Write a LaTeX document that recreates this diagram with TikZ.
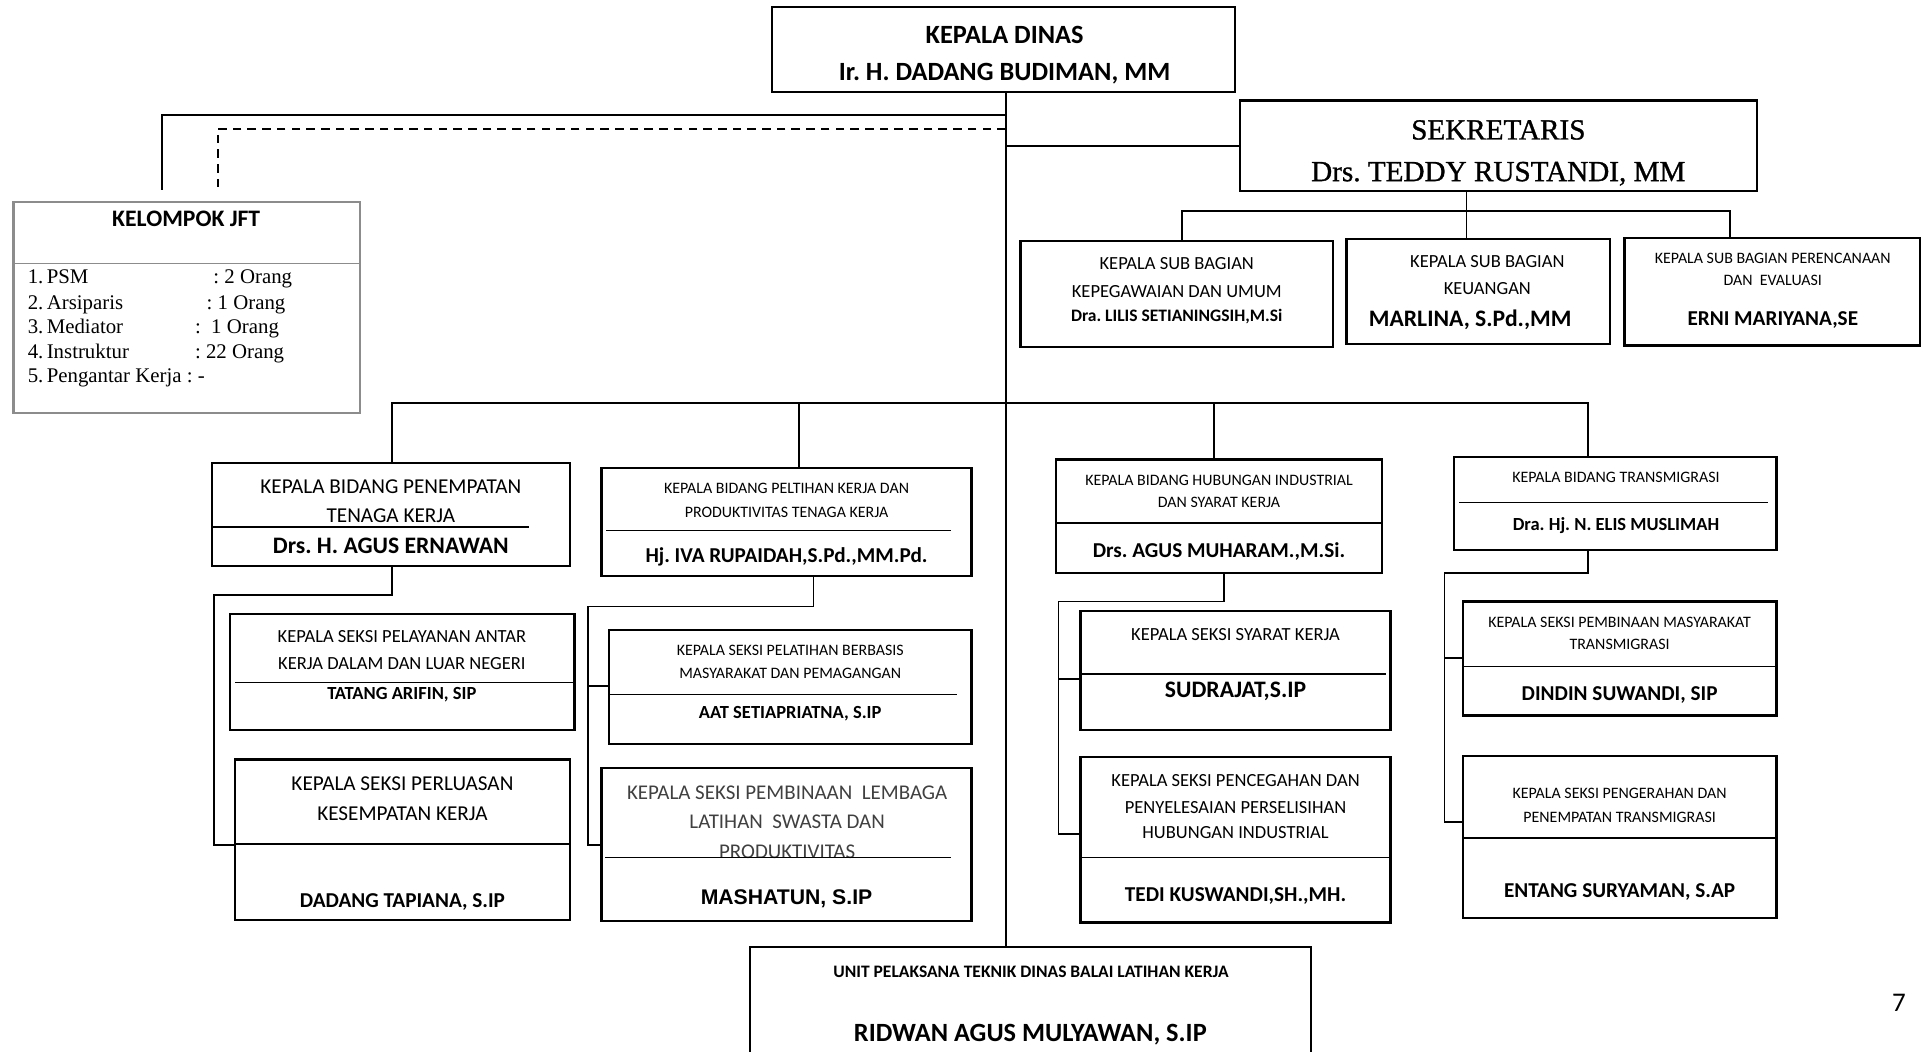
\documentclass[tikz,border=0pt]{standalone}
\usepackage{fontspec}
\setmainfont{Carlito}
\newfontfamily\jftserif{Liberation Serif}
\newfontfamily\sekserif[FakeBold=1]{Liberation Serif}
\newfontfamily\arialfont{Liberation Sans}
\usepackage{tikz}
\usetikzlibrary{positioning}
\tikzstyle{unit} = [rectangle, draw = black, line width = 1.8pt, inner sep = 0]
\tikzstyle{jftbox} = [rectangle, draw = black!45, line width = 1.8pt, inner sep = 0]
\tikzstyle{link} = [line width = 1.5pt]
\tikzstyle{rule} = [line width = 1.3pt]
\tikzstyle{txt} = [inner sep = 0, text depth = 0pt]
\tikzstyle{lbl-xs} = [txt, text height = 8.2pt, font = {\fontsize{13}{15}\selectfont}]
\tikzstyle{lbl-s} = [txt, text height = 9.5pt, font = {\fontsize{15.1}{18}\selectfont}]
\tikzstyle{lbl-m} = [txt, text height = 10.9pt, font = {\fontsize{17.3}{20}\selectfont}]
\tikzstyle{lbl-light} = [txt, text height = 10.8pt, text = black!75,
  font = {\fontsize{17.1}{20}\selectfont}]
\tikzstyle{nm-xs} = [txt, text height = 9pt, font = {\fontsize{14.3}{17}\selectfont\bfseries}]
\tikzstyle{nm-s} = [txt, text height = 9.5pt, font = {\fontsize{15.1}{18}\selectfont\bfseries}]
\tikzstyle{nm-m} = [txt, text height = 10.9pt, font = {\fontsize{17.3}{20}\selectfont\bfseries}]
\tikzstyle{nm-l} = [txt, text height = 12.2pt, font = {\fontsize{19.3}{22}\selectfont\bfseries}]
\tikzstyle{nm-xl} = [txt, text height = 13.5pt, font = {\fontsize{21.5}{25}\selectfont\bfseries}]
\tikzstyle{nm-arial} = [txt, text height = 12.4pt,
  font = {\arialfont\fontsize{17.3}{20}\selectfont\bfseries}]
\tikzstyle{sek-txt} = [txt, text height = 15.7pt,
  font = {\sekserif\fontsize{23.8}{28}\selectfont}]
\tikzstyle{jft-item} = [txt, text height = 11.2pt, anchor = west,
  font = {\jftserif\fontsize{17}{20}\selectfont}]

\begin{document}
\frenchspacing
\begin{tikzpicture}[x = 1pt, y = -1pt]
  \useasboundingbox (0, 0) rectangle (1568, 858);
  \coordinate (spine) at (821, 0);

  % kepala dinas
  \node [unit, minimum width = 378, minimum height = 69] (kadis) at (819, 40.5) {};
  \node [nm-xl] (kadis-title) at (820, 29) {KEPALA DINAS};
  \node [nm-xl] (kadis-name) at (820, 59) {Ir. H. DADANG BUDIMAN, MM};

  % sekretaris
  \node [unit, minimum width = 422, minimum height = 74] (sekretaris) at (1223, 119) {};
  \node [sek-txt] (sek-title) at (1223, 106) {SEKRETARIS};
  \node [sek-txt] (sek-name) at (1223, 140) {Drs. TEDDY RUSTANDI, MM};

  % sub bagian
  \node [unit, minimum width = 255, minimum height = 86] (lilis) at (960.5, 240) {};
  \node [lbl-s] (lilis-a) at (960.5, 215) {KEPALA SUB BAGIAN};
  \node [lbl-s] (lilis-b) at (960.5, 238) {KEPEGAWAIAN DAN UMUM};
  \node [nm-xs] (lilis-name) at (960.5, 258) {Dra. LILIS SETIANINGSIH,M.Si};

  \node [unit, minimum width = 215, minimum height = 86] (marlina) at (1206.5, 238) {};
  \node [lbl-s] (marlina-a) at (1214, 214) {KEPALA SUB BAGIAN};
  \node [lbl-s] (marlina-b) at (1214, 236) {KEUANGAN};
  \node [nm-l] (marlina-name) at (1200, 260) {MARLINA, S.Pd.,MM};

  \node [unit, minimum width = 241, minimum height = 88] (erni) at (1446.5, 238) {};
  \node [lbl-xs] (erni-a) at (1447, 211) {KEPALA SUB BAGIAN PERENCANAAN};
  \node [lbl-xs] (erni-b) at (1447, 229) {DAN\ \ EVALUASI};
  \node [nm-m] (erni-name) at (1447, 260) {ERNI MARIYANA,SE};

  % kelompok jft
  \node [jftbox, minimum width = 283, minimum height = 172] (jft) at (152.5, 251) {};
  \node [nm-l] (jft-title) at (152, 179) {KELOMPOK JFT};
  \draw [rule, draw = black!45] (11, 215) -- (294, 215);
  \foreach \ypos/\nr/\role/\colx/\cnt in {226/1/PSM/174/{: 2 Orang},
      247/2/Arsiparis/168.5/{: 1 Orang}, 267/3/Mediator/159/{:\ \ 1 Orang},
      287/4/Instruktur/159/{: 22 Orang}} {
    \node [jft-item] (jft-nr-\nr) at (22.5, \ypos) {\nr.};
    \node [jft-item] (jft-role-\nr) at (38, \ypos) {\role};
    \node [jft-item] (jft-cnt-\nr) at (\colx, \ypos) {\cnt};
  }
  \node [jft-item] (jft-nr-5) at (22.5, 307) {5.};
  \node [jft-item] (jft-role-5) at (38, 307) {Pengantar Kerja : -};

  % bidang 1
  \node [unit, minimum width = 292, minimum height = 84] (bid-1) at (319, 420) {};
  \node [lbl-m] (bid-1-a) at (319, 397) {KEPALA BIDANG PENEMPATAN};
  \node [lbl-m] (bid-1-b) at (319, 421) {TENAGA KERJA};
  \draw [rule] (173, 430) -- (432, 430);
  \node [nm-l] (bid-1-name) at (319, 446) {Drs. H. AGUS ERNAWAN};
  % bidang 2
  \node [unit, minimum width = 302, minimum height = 88] (bid-2) at (642, 426) {};
  \node [lbl-xs] (bid-2-a) at (642, 399) {KEPALA BIDANG PELTIHAN KERJA DAN};
  \node [lbl-xs] (bid-2-b) at (642, 418) {PRODUKTIVITAS TENAGA KERJA};
  \draw [rule] (495, 433) -- (776, 433);
  \node [nm-m] (bid-2-name) at (642, 454) {Hj. IVA RUPAIDAH,S.Pd.,MM.Pd.};
  % bidang 3
  \node [unit, minimum width = 266, minimum height = 93] (bid-3) at (995, 421.5) {};
  \node [lbl-xs] (bid-3-a) at (995, 392) {KEPALA BIDANG HUBUNGAN INDUSTRIAL};
  \node [lbl-xs] (bid-3-b) at (995, 410) {DAN SYARAT KERJA};
  \draw [rule] (862, 427) -- (1128, 427);
  \node [nm-m] (bid-3-name) at (995, 450) {Drs. AGUS MUHARAM.,M.Si.};
  % bidang 4
  \node [unit, minimum width = 263, minimum height = 76] (bid-4) at (1318.5, 411) {};
  \node [lbl-xs] (bid-4-a) at (1319, 390) {KEPALA BIDANG TRANSMIGRASI};
  \draw [rule] (1191, 410) -- (1443, 410);
  \node [nm-s] (bid-4-name) at (1319, 428) {Dra. Hj. N. ELIS MUSLIMAH};

  % seksi 1
  \node [unit, minimum width = 281, minimum height = 95] (sie-1-a) at (328.5, 548.5) {};
  \node [lbl-s] (sie-1-a-1) at (328, 520) {KEPALA SEKSI PELAYANAN ANTAR};
  \node [lbl-s] (sie-1-a-2) at (328, 542) {KERJA DALAM DAN LUAR NEGERI};
  \draw [rule] (192, 557) -- (469, 557);
  \node [nm-s] (sie-1-a-name) at (328, 566) {TATANG ARIFIN, SIP};
  \node [unit, minimum width = 273, minimum height = 131] (sie-1-b) at (328.5, 685.5) {};
  \node [lbl-m] (sie-1-b-1) at (328.5, 640) {KEPALA SEKSI PERLUASAN};
  \node [lbl-m] (sie-1-b-2) at (328.5, 664) {KESEMPATAN KERJA};
  \draw [rule] (192, 689) -- (465, 689);
  \node [nm-m] (sie-1-b-name) at (328.5, 735) {DADANG TAPIANA, S.IP};
  % seksi 2
  \node [unit, minimum width = 296, minimum height = 93] (sie-2-a) at (645, 560.5) {};
  \node [lbl-xs] (sie-2-a-1) at (645, 531) {KEPALA SEKSI PELATIHAN BERBASIS};
  \node [lbl-xs] (sie-2-a-2) at (645, 550) {MASYARAKAT DAN PEMAGANGAN};
  \draw [rule] (497, 567) -- (781, 567);
  \node [nm-s] (sie-2-a-name) at (645, 582) {AAT SETIAPRIATNA, S.IP};
  \node [unit, minimum width = 302, minimum height = 125] (sie-2-b) at (642, 689.5) {};
  \node [lbl-light] (sie-2-b-1) at (642.5, 647) {KEPALA SEKSI PEMBINAAN\ \ LEMBAGA};
  \node [lbl-light] (sie-2-b-2) at (642.5, 671) {LATIHAN\ \ SWASTA DAN};
  \node [lbl-light] (sie-2-b-3) at (642.5, 695) {PRODUKTIVITAS};
  \draw [rule] (494, 700) -- (776, 700);
  \node [nm-arial] (sie-2-b-name) at (642, 732) {MASHATUN, S.IP};
  % seksi 3
  \node [unit, minimum width = 253, minimum height = 97] (sie-3-a) at (1008.5, 547.5) {};
  \node [lbl-s] (sie-3-a-1) at (1008.5, 518) {KEPALA SEKSI SYARAT KERJA};
  \draw [rule] (882, 550) -- (1131, 550);
  \node [nm-l] (sie-3-a-name) at (1008.5, 563) {SUDRAJAT,S.IP};
  \node [unit, minimum width = 253, minimum height = 135] (sie-3-b) at (1008.5, 685.5) {};
  \node [lbl-s] (sie-3-b-1) at (1008.5, 637) {KEPALA SEKSI PENCEGAHAN DAN};
  \node [lbl-s] (sie-3-b-2) at (1008.5, 659) {PENYELESAIAN PERSELISIHAN};
  \node [lbl-s] (sie-3-b-3) at (1008.5, 680) {HUBUNGAN INDUSTRIAL};
  \draw [rule] (882, 700) -- (1135, 700);
  \node [nm-m] (sie-3-b-name) at (1008.5, 730) {TEDI KUSWANDI,SH.,MH.};
  % seksi 4
  \node [unit, minimum width = 256, minimum height = 93] (sie-4-a) at (1322, 537.5) {};
  \node [lbl-xs] (sie-4-a-1) at (1322, 508) {KEPALA SEKSI PEMBINAAN MASYARAKAT};
  \node [lbl-xs] (sie-4-a-2) at (1322, 526) {TRANSMIGRASI};
  \draw [rule] (1194, 544) -- (1450, 544);
  \node [nm-m] (sie-4-a-name) at (1322, 566) {DINDIN SUWANDI, SIP};
  \node [unit, minimum width = 256, minimum height = 132] (sie-4-b) at (1322, 683) {};
  \node [lbl-xs] (sie-4-b-1) at (1322, 648) {KEPALA SEKSI PENGERAHAN DAN};
  \node [lbl-xs] (sie-4-b-2) at (1322, 667) {PENEMPATAN TRANSMIGRASI};
  \draw [rule] (1194, 684) -- (1450, 684);
  \node [nm-m] (sie-4-b-name) at (1322, 727) {ENTANG SURYAMAN, S.AP};

  % upt
  \node [unit, minimum width = 458, minimum height = 107] (upt) at (841, 826.5) {};
  \node [nm-xs] (upt-title) at (841.5, 793) {UNIT PELAKSANA TEKNIK DINAS BALAI LATIHAN KERJA};
  \node [nm-xl] (upt-name) at (841, 843) {RIDWAN AGUS MULYAWAN, S.IP};

  % page number
  \node [txt, text height = 13.9pt, font = {\fontsize{22}{26}\selectfont}] (page-nr)
    at (1550, 819) {7};

  % links from the top
  \coordinate (jft-a) at (132, 94);
  \coordinate (jft-b) at (178, 105);
  \draw [link] (kadis.south -| spine) -- (upt.north -| spine);
  \draw [link, shorten >= 9pt] (jft-a -| spine) -- (jft-a) -- (jft-a |- jft.north);
  \draw [link, dash pattern = on 7pt off 5pt, shorten >= 9pt] (jft-b -| spine) --
    (jft-b) -- (jft-b |- jft.north);
  \draw [link] (spine |- sekretaris.west) -- (sekretaris.west);

  % sub bagian links
  \coordinate (sub-bar) at (1197, 172);
  \coordinate (sub-a) at (965, 172);
  \coordinate (sub-c) at (1412, 172);
  \draw [link] (sekretaris.south -| sub-bar) -- (marlina.north -| sub-bar);
  \draw [link] (sub-a |- lilis.north) -- (sub-a) -- (sub-c) -- (sub-c |- erni.north);

  % bidang links
  \coordinate (bar-a) at (320, 329);
  \coordinate (bar-b) at (652, 329);
  \coordinate (bar-c) at (991, 329);
  \coordinate (bar-d) at (1296, 329);
  \draw [link] (bar-a |- bid-1.north) -- (bar-a) -- (bar-d) -- (bar-d |- bid-4.north);
  \draw [link] (bar-b) -- (bar-b |- bid-2.north);
  \draw [link] (bar-c) -- (bar-c |- bid-3.north);

  % seksi links
  \coordinate (drop-1) at (320, 486);
  \coordinate (rail-1) at (175, 486);
  \coordinate (tick-1-b) at (175, 690);
  \draw [link] (drop-1 |- bid-1.south) -- (drop-1) -- (rail-1) -- (tick-1-b) --
    (tick-1-b -| sie-1-b.west);

  \coordinate (drop-2) at (664, 495);
  \coordinate (rail-2) at (480, 495);
  \coordinate (tick-2-a) at (480, 560);
  \coordinate (tick-2-b) at (480, 690);
  \draw [link] (drop-2 |- bid-2.south) -- (drop-2) -- (rail-2) -- (tick-2-b) --
    (tick-2-b -| sie-2-b.west);
  \draw [link] (tick-2-a) -- (tick-2-a -| sie-2-a.west);

  \coordinate (drop-3) at (999, 491);
  \coordinate (rail-3) at (864, 491);
  \coordinate (tick-3-a) at (864, 554);
  \coordinate (tick-3-b) at (864, 681);
  \draw [link] (drop-3 |- bid-3.south) -- (drop-3) -- (rail-3) -- (tick-3-b) --
    (tick-3-b -| sie-3-b.west);
  \draw [link] (tick-3-a) -- (tick-3-a -| sie-3-a.west);

  \coordinate (drop-4) at (1296, 468);
  \coordinate (rail-4) at (1179, 468);
  \coordinate (tick-4-a) at (1179, 537);
  \coordinate (tick-4-b) at (1179, 671);
  \draw [link] (drop-4 |- bid-4.south) -- (drop-4) -- (rail-4) -- (tick-4-b) --
    (tick-4-b -| sie-4-b.west);
  \draw [link] (tick-4-a) -- (tick-4-a -| sie-4-a.west);
\end{tikzpicture}
\end{document}
